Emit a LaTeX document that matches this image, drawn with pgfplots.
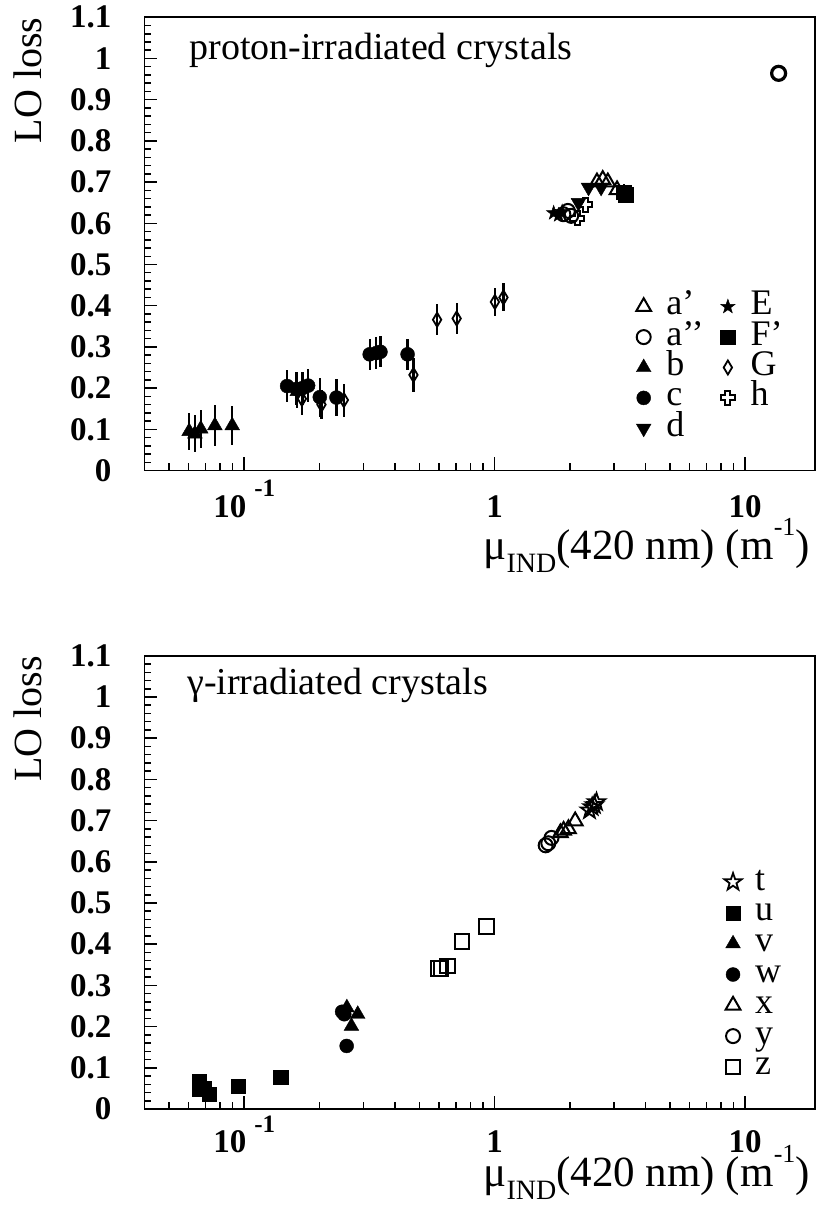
\documentclass[border=0pt]{standalone}
\usepackage{fontspec}
\setmainfont{Liberation Serif}
\usepackage{pgfplots}
\pgfplotsset{compat=1.18}
\usetikzlibrary{plotmarks}

% five-pointed stars and an outlined plus, as ROOT draws them
\pgfdeclareplotmark{fstar}{%
  \pgfpathmoveto{\pgfpointpolar{90}{\pgfplotmarksize}}%
  \pgfpathlineto{\pgfpointpolar{126}{0.4\pgfplotmarksize}}%
  \pgfpathlineto{\pgfpointpolar{162}{\pgfplotmarksize}}%
  \pgfpathlineto{\pgfpointpolar{198}{0.4\pgfplotmarksize}}%
  \pgfpathlineto{\pgfpointpolar{234}{\pgfplotmarksize}}%
  \pgfpathlineto{\pgfpointpolar{270}{0.4\pgfplotmarksize}}%
  \pgfpathlineto{\pgfpointpolar{306}{\pgfplotmarksize}}%
  \pgfpathlineto{\pgfpointpolar{342}{0.4\pgfplotmarksize}}%
  \pgfpathlineto{\pgfpointpolar{18}{\pgfplotmarksize}}%
  \pgfpathlineto{\pgfpointpolar{54}{0.4\pgfplotmarksize}}%
  \pgfpathclose\pgfusepathqfillstroke}
\pgfdeclareplotmark{ostar}{%
  \pgfpathmoveto{\pgfpointpolar{90}{\pgfplotmarksize}}%
  \pgfpathlineto{\pgfpointpolar{126}{0.4\pgfplotmarksize}}%
  \pgfpathlineto{\pgfpointpolar{162}{\pgfplotmarksize}}%
  \pgfpathlineto{\pgfpointpolar{198}{0.4\pgfplotmarksize}}%
  \pgfpathlineto{\pgfpointpolar{234}{\pgfplotmarksize}}%
  \pgfpathlineto{\pgfpointpolar{270}{0.4\pgfplotmarksize}}%
  \pgfpathlineto{\pgfpointpolar{306}{\pgfplotmarksize}}%
  \pgfpathlineto{\pgfpointpolar{342}{0.4\pgfplotmarksize}}%
  \pgfpathlineto{\pgfpointpolar{18}{\pgfplotmarksize}}%
  \pgfpathlineto{\pgfpointpolar{54}{0.4\pgfplotmarksize}}%
  \pgfpathclose\pgfusepathqstroke}
\pgfdeclareplotmark{oplus}{%
  \pgfpathmoveto{\pgfqpoint{0.35\pgfplotmarksize}{\pgfplotmarksize}}%
  \pgfpathlineto{\pgfqpoint{-0.35\pgfplotmarksize}{\pgfplotmarksize}}%
  \pgfpathlineto{\pgfqpoint{-0.35\pgfplotmarksize}{0.35\pgfplotmarksize}}%
  \pgfpathlineto{\pgfqpoint{-\pgfplotmarksize}{0.35\pgfplotmarksize}}%
  \pgfpathlineto{\pgfqpoint{-\pgfplotmarksize}{-0.35\pgfplotmarksize}}%
  \pgfpathlineto{\pgfqpoint{-0.35\pgfplotmarksize}{-0.35\pgfplotmarksize}}%
  \pgfpathlineto{\pgfqpoint{-0.35\pgfplotmarksize}{-\pgfplotmarksize}}%
  \pgfpathlineto{\pgfqpoint{0.35\pgfplotmarksize}{-\pgfplotmarksize}}%
  \pgfpathlineto{\pgfqpoint{0.35\pgfplotmarksize}{-0.35\pgfplotmarksize}}%
  \pgfpathlineto{\pgfqpoint{\pgfplotmarksize}{-0.35\pgfplotmarksize}}%
  \pgfpathlineto{\pgfqpoint{\pgfplotmarksize}{0.35\pgfplotmarksize}}%
  \pgfpathlineto{\pgfqpoint{0.35\pgfplotmarksize}{0.35\pgfplotmarksize}}%
  \pgfpathclose\pgfusepathqstroke}

\pgfplotsset{
  every axis/.append style={
    scale only axis, width=670.5pt, height=453.2pt,
    xmin=0.04, xmax=19, ymin=0, ymax=1.1,
    xtick={0.1,1,10},
    xticklabels={{10\hspace{8pt}\raisebox{21pt}{\fontsize{25}{25}\selectfont -1}},1,10},
    minor xtick={0.05,0.06,0.07,0.08,0.09,0.2,0.3,0.4,0.5,0.6,0.7,0.8,0.9,2,3,4,5,6,7,8,9},
    ytick={0,0.1,0.2,0.3,0.4,0.5,0.6,0.7,0.8,0.9,1,1.1},
    yticklabels={0,0.1,0.2,0.3,0.4,0.5,0.6,0.7,0.8,0.9,1,1.1},
    minor y tick num=4,
    tick align=inside, xtick pos=bottom, ytick pos=left,
    major tick length=13pt, minor tick length=7pt,
    tick style={line width=1.5pt, black},
    axis line style={line width=1.8pt},
    /pgf/number format/assume math mode=true,
    tick label style={font=\fontsize{33}{33}\selectfont\bfseries},
    xticklabel style={anchor=base, inner sep=0pt},
    yticklabel style={anchor=east, inner sep=0pt, xshift=-32.8pt},
    xlabel={μ\raisebox{-13pt}{\fontsize{28}{28}\selectfont IND}(420 nm) (m\raisebox{24pt}{\fontsize{26}{26}\selectfont -1})},
    x label style={anchor=base east, inner sep=0pt, font=\fontsize{43}{43}\selectfont},
    ylabel={LO loss},
    y label style={at={(axis description cs:-0.1533,1)}, anchor=base east,
      inner sep=0pt, font=\fontsize{40}{40}\selectfont},
    legend style={anchor=north west, draw=none, fill=none,
      inner sep=0pt, outer sep=0pt, row sep=0pt, column sep=0pt,
      font=\fontsize{36}{36}\selectfont,
      cells={anchor=base west}},
  },
  legend image code/.code={\path (-8pt,0pt) (8pt,0pt); \draw[#1] plot coordinates {(0pt,8pt)};},
}

\begin{document}
\begin{tikzpicture}
\useasboundingbox (0,0) rectangle (817pt,1205pt);

% ---- proton-irradiated crystals ----
\begin{semilogxaxis}[at={(144.5pt,734.5pt)}, anchor=south west,
  xticklabel style={yshift=-47pt},
  x label style={at={(axis description cs:0.9925,-0.1975)}},
  legend columns=2,
  legend style={at={(0.7323,0.3901)},
    nodes={inner sep=0pt, text height=21pt, text depth=9.4pt},
    /tikz/every odd column/.append style={column sep=14.5pt},
    /tikz/every even column/.append style={column sep=16pt}},
]
\addplot[only marks, mark=triangle, mark size=8.5pt, mark options={line width=2pt}]
  coordinates {(2.56,0.700) (2.70,0.706) (2.83,0.700) (3.08,0.681)};
\addlegendentry{a’}
\addplot[only marks, mark=fstar, mark size=7.5pt, mark options={line width=0.5pt}]
  coordinates {(1.72,0.625) (1.80,0.620) (1.86,0.628)};
\addlegendentry{E}
\addplot[only marks, mark=o, mark size=7pt, mark options={line width=2pt}]
  coordinates {(1.88,0.622) (1.96,0.630) (2.02,0.618)};
\addlegendentry{a’’}
\addplot[only marks, mark=square*, mark size=7.2pt,
  error bars/y dir=both, error bars/y explicit, error bars/error mark=none,
  error bars/error bar style={line width=2pt}]
  coordinates {(3.27,0.675) +- (0,0.02) (3.33,0.669) +- (0,0.02)};
\addlegendentry{F’}
\addplot[only marks, mark=triangle*, mark size=8.5pt,
  error bars/y dir=both, error bars/y explicit, error bars/error mark=none,
  error bars/error bar style={line width=2.2pt}]
  coordinates {(0.0603,0.095) +- (0,0.045) (0.0636,0.089) +- (0,0.045)
    (0.0671,0.101) +- (0,0.047) (0.0764,0.109) +- (0,0.05)
    (0.0896,0.109) +- (0,0.048) (0.163,0.192) +- (0,0.04)};
\addlegendentry{b}
\addplot[only marks, mark=diamond, mark size=7pt, mark options={line width=1.8pt, xscale=0.8},
  error bars/y dir=both, error bars/y explicit, error bars/error mark=none,
  error bars/error bar style={line width=2.2pt}]
  coordinates {(0.170,0.174) +- (0,0.04) (0.2035,0.160) +- (0,0.035)
    (0.250,0.171) +- (0,0.04) (0.474,0.232) +- (0,0.042)
    (0.589,0.366) +- (0,0.037) (0.705,0.369) +- (0,0.037)
    (1.002,0.409) +- (0,0.034) (1.084,0.420) +- (0,0.034)};
\addlegendentry{G}
\addplot[only marks, mark=*, mark size=7pt,
  error bars/y dir=both, error bars/y explicit, error bars/error mark=none,
  error bars/error bar style={line width=2.2pt}]
  coordinates {(0.1484,0.205) +- (0,0.038) (0.1618,0.198) +- (0,0.04)
    (0.171,0.200) +- (0,0.04) (0.180,0.206) +- (0,0.04)
    (0.2004,0.178) +- (0,0.047) (0.2336,0.177) +- (0,0.045)
    (0.317,0.282) +- (0,0.038) (0.337,0.285) +- (0,0.038)
    (0.350,0.288) +- (0,0.038) (0.449,0.282) +- (0,0.038)};
\addlegendentry{c}
\addplot[only marks, mark=oplus, mark size=7pt, mark options={line width=2pt}]
  coordinates {(2.14,0.612) (2.30,0.645)};
\addlegendentry{h}
\addplot[only marks, mark=triangle*, mark size=8.5pt, mark options={rotate=180}]
  coordinates {(2.16,0.650) (2.37,0.687) (2.66,0.687)};
\addlegendentry{d}
% the lone a'' crystal at high mu, drawn with a heavier ring
\addplot[only marks, mark=o, mark size=7pt, mark options={line width=3.2pt}, forget plot]
  coordinates {(13.6,0.964)};
\node[anchor=base west, inner sep=0pt, font=\fontsize{38}{38}\selectfont]
  at (rel axis cs:0.0667,0.9058) {proton-irradiated crystals};
\end{semilogxaxis}

% ---- gamma-irradiated crystals ----
\begin{semilogxaxis}[at={(144.5pt,96pt)}, anchor=south west,
  xticklabel style={yshift=-44pt},
  x label style={at={(axis description cs:0.9925,-0.1699)}},
  legend style={at={(0.865,0.5302)},
    nodes={inner sep=0pt, text height=21.4pt, text depth=9.4pt},
    /tikz/every odd column/.append style={column sep=13.5pt}},
]
\addplot[only marks, mark=ostar, mark size=9pt, mark options={line width=1.8pt}]
  coordinates {(2.39,0.725) (2.45,0.733) (2.50,0.738) (2.55,0.745)};
\addlegendentry{t}
\addplot[only marks, mark=square*, mark size=7.2pt]
  coordinates {(0.0663,0.066) (0.0663,0.048) (0.0690,0.050) (0.0726,0.036)
    (0.0948,0.056) (0.140,0.077)};
\addlegendentry{u}
\addplot[only marks, mark=triangle*, mark size=8.5pt]
  coordinates {(0.257,0.246) (0.284,0.230) (0.268,0.201)};
\addlegendentry{v}
\addplot[only marks, mark=*, mark size=7pt]
  coordinates {(0.246,0.236) (0.251,0.230) (0.2565,0.153)};
\addlegendentry{w}
\addplot[only marks, mark=triangle, mark size=8.5pt, mark options={line width=2pt}]
  coordinates {(1.83,0.670) (1.884,0.676) (1.97,0.680) (2.096,0.699)};
\addlegendentry{x}
\addplot[only marks, mark=o, mark size=7pt, mark options={line width=2pt}]
  coordinates {(1.598,0.640) (1.637,0.645) (1.686,0.658)};
\addlegendentry{y}
\addplot[only marks, mark=square, mark size=7.2pt, mark options={line width=2pt}]
  coordinates {(0.596,0.341) (0.609,0.341) (0.649,0.347) (0.741,0.407) (0.929,0.443)};
\addlegendentry{z}
\node[anchor=base west, inner sep=0pt, font=\fontsize{38}{38}\selectfont]
  at (rel axis cs:0.0634,0.9135) {γ-irradiated crystals};
\end{semilogxaxis}
\end{tikzpicture}
\end{document}
